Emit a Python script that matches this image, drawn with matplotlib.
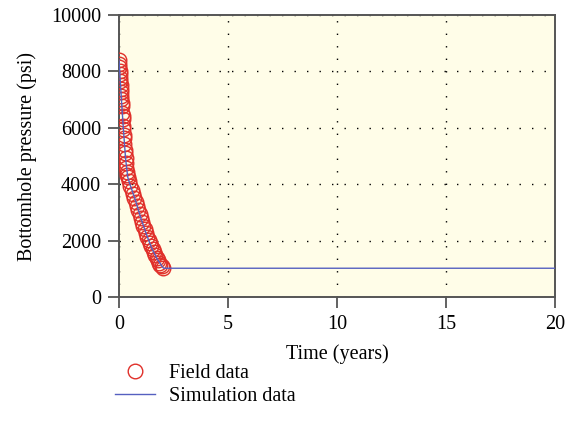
import matplotlib.pyplot as plt

# Field data (time in years, pressure in psi)
t_field = [0.00, 0.01, 0.02, 0.03, 0.04, 0.05, 0.06, 0.07, 0.08, 0.09,
           0.10, 0.11, 0.12, 0.13, 0.15, 0.16, 0.17, 0.19, 0.20, 0.22,
           0.23, 0.25, 0.27, 0.28, 0.30, 0.32, 0.34, 0.36, 0.38, 0.41,
           0.46, 0.52, 0.58, 0.64, 0.70, 0.76, 0.82, 0.88, 0.94, 1.00,
           1.06, 1.12, 1.18, 1.24, 1.30, 1.36, 1.42, 1.48, 1.54, 1.60,
           1.66, 1.72, 1.78, 1.84, 1.90, 1.96, 2.02]
p_field = [8400, 8280, 8150, 8020, 7900, 7780, 7650, 7520, 7390, 7260,
           7130, 7010, 6890, 6770, 6540, 6420, 6300, 6080, 5960, 5740,
           5630, 5420, 5210, 5110, 4920, 4740, 4580, 4440, 4320, 4250,
           4100, 3950, 3800, 3660, 3510, 3370, 3220, 3080, 2940, 2800,
           2660, 2530, 2400, 2270, 2140, 2020, 1920, 1800, 1690, 1580,
           1480, 1390, 1300, 1220, 1150, 1090, 1040]

# Simulation data
t_sim = [0, 0.1, 0.2, 0.3, 0.4, 0.5, 0.75, 1.0, 1.25, 1.5, 1.75, 2.0, 2.05, 20]
p_sim = [8400, 7130, 5960, 4920, 4250, 4000, 3440, 2800, 2240, 1730, 1350, 1060, 1020, 1020]

plt.rcParams['font.family'] = 'Liberation Serif'
plt.rcParams['font.size'] = 14.5

fig = plt.figure(figsize=(5.73, 4.36), dpi=100)
ax = fig.add_axes([0.2077, 0.3188, 0.7609, 0.6468])
ax.set_facecolor('#fffde8')

ax.plot(t_field, p_field, 'o', mfc='none', mec='#e0302a', ms=10.5, mew=1.0,
        label='Field data', zorder=3)
ax.plot(t_sim, p_sim, '-', color='#5560c0', lw=1.0, label='Simulation data', zorder=4)

ax.set_xlim(0, 20)
ax.set_ylim(0, 10000)
ax.set_xticks([0, 5, 10, 15, 20])
ax.set_yticks([0, 2000, 4000, 6000, 8000, 10000])

ax.grid(True, color='black', linestyle=(0, (1, 8)), linewidth=1.0)
for s in ax.spines.values():
    s.set_color('#555555')
    s.set_linewidth(1.4)
ax.tick_params(direction='out', length=8, width=1.3, color='#555555', pad=5)

ax.set_xlabel('Time (years)', labelpad=7)
ax.set_ylabel('Bottomhole pressure (psi)', labelpad=10)

fig.legend(loc='upper left', bbox_to_anchor=(0.183, 0.188), frameon=False,
           handlelength=2.0, handletextpad=0.7, labelspacing=0.2,
           borderpad=0.0)

plt.savefig('out.png', dpi=100)
plt.close()
